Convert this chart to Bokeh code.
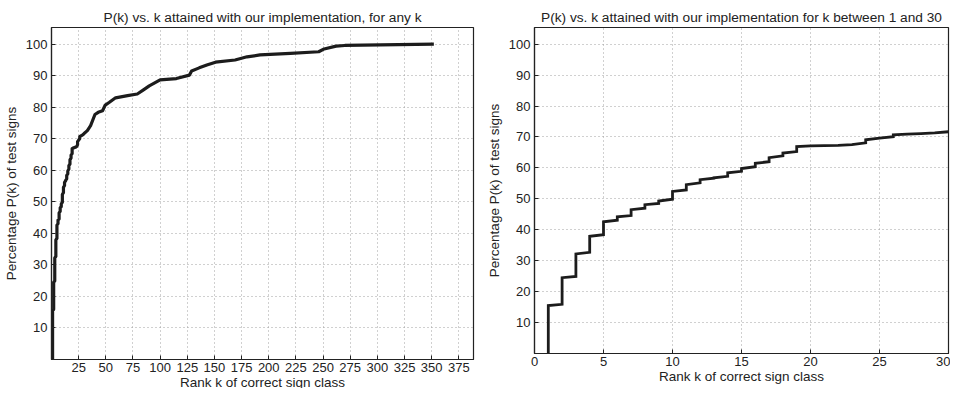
from bokeh.plotting import figure
from bokeh.models import Range1d, FixedTicker
from bokeh.layouts import row
from bokeh.embed import file_html
from bokeh.resources import INLINE

# ---- data ----
# step data for ranks 1..29: value right after the jump at k, value just before k+1
rank_k = list(range(1, 30))
p_after_jump = [15.5, 24.5, 32.2, 37.9, 42.6, 44.2, 46.5, 48.1, 49.3, 52.4,
                54.6, 56.2, 56.8, 58.4, 59.8, 61.5, 63.3, 64.8, 66.9, 67.1,
                67.2, 67.3, 67.5, 69.1, 69.6, 70.7, 70.9, 71.1, 71.3]
p_before_next = [15.9, 24.9, 32.7, 38.4, 43.1, 44.6, 47.0, 48.5, 49.9, 52.9,
                 55.2, 56.7, 57.3, 58.9, 60.4, 62.0, 63.9, 65.3, 67.1, 67.2,
                 67.3, 67.5, 68.1, 69.6, 70.1, 70.9, 71.1, 71.3, 71.7]
# curve beyond k = 30 (left chart)
tail_k = [33, 36, 40, 43, 47, 49.5, 53, 59, 70, 79, 85, 90, 100, 115, 127, 129,
          136, 143, 151, 169, 180, 192, 220, 246, 251, 262, 270, 352]
tail_p = [72.6, 74.2, 77.7, 78.4, 78.9, 80.7, 81.5, 83.0, 83.7, 84.2, 85.6, 86.8,
          88.7, 89.1, 90.2, 91.5, 92.5, 93.4, 94.3, 95.0, 96.0, 96.6, 97.1, 97.6,
          98.5, 99.4, 99.6, 100.0]

left_xticks = list(range(25, 376, 25))
right_xticks = list(range(0, 31, 5))
yticks = list(range(10, 101, 10))

left_title = "P(k) vs. k attained with our implementation, for any k"
right_title = "P(k) vs. k attained with our implementation for k between 1 and 30"
x_label = "Rank k of correct sign class"
y_label = "Percentage P(k) of test signs"

# ---- build step polyline ----
step_x = [rank_k[0]]
step_y = [0.0]
for k, a, b in zip(rank_k, p_after_jump, p_before_next):
    step_x += [k, k + 1]
    step_y += [a, b]

FONT = "Liberation Sans"
LINE = "#1c1c1c"
TXT = "#222222"


def style(p, xticks):
    p.title.text_font = FONT
    p.title.text_font_size = "13.7px"
    p.title.text_font_style = "normal"
    p.title.align = "center"
    p.title.text_color = TXT
    p.title.standoff = 5
    p.outline_line_color = TXT
    p.outline_line_width = 1.2
    for ax in (p.xaxis[0], p.yaxis[0]):
        ax.axis_line_color = TXT
        ax.axis_line_width = 1.2
        ax.major_tick_in = 4
        ax.major_tick_out = 0
        ax.major_tick_line_color = TXT
        ax.minor_tick_line_color = None
        ax.major_label_text_font = FONT
        ax.major_label_text_font_size = "13px"
        ax.major_label_text_color = TXT
        ax.axis_label_text_font = FONT
        ax.axis_label_text_font_size = "13.5px"
        ax.axis_label_text_font_style = "normal"
        ax.axis_label_text_color = TXT
    p.xaxis[0].ticker = FixedTicker(ticks=xticks)
    p.yaxis[0].ticker = FixedTicker(ticks=yticks)
    p.xaxis[0].major_label_standoff = 3
    p.xaxis[0].axis_label_standoff = 0
    p.yaxis[0].major_label_standoff = 4
    p.yaxis[0].axis_label_standoff = 4
    for g in (p.xgrid[0], p.ygrid[0]):
        g.grid_line_color = "#a0a0a0"
        g.grid_line_dash = "1 3"
        g.grid_line_width = 1
    p.xgrid[0].ticker = FixedTicker(ticks=xticks)
    p.ygrid[0].ticker = FixedTicker(ticks=yticks)
    p.background_fill_color = "white"
    p.border_fill_color = "white"


left = figure(frame_width=422, frame_height=332, output_backend="svg",
              toolbar_location=None,
              x_range=Range1d(0, 388.5), y_range=Range1d(0, 105.3),
              title=left_title, x_axis_label=x_label, y_axis_label=y_label,
              min_border_left=46, min_border_right=10, min_border_top=21,
              min_border_bottom=34)
style(left, left_xticks)
left.line(step_x + tail_k, step_y + tail_p, line_color=LINE, line_width=3.2,
          line_join="round")

right = figure(frame_width=414, frame_height=326, output_backend="svg",
               toolbar_location=None,
               x_range=Range1d(0, 30), y_range=Range1d(0, 105.4),
               title=right_title, x_axis_label=x_label, y_axis_label=y_label,
               min_border_left=50, min_border_right=2, min_border_top=27,
               min_border_bottom=34)
style(right, right_xticks)
right.line(step_x, step_y, line_color=LINE, line_width=2.8, line_join="miter")

layout = row(left, right)
open("out.html", "w").write(file_html(layout, INLINE))
